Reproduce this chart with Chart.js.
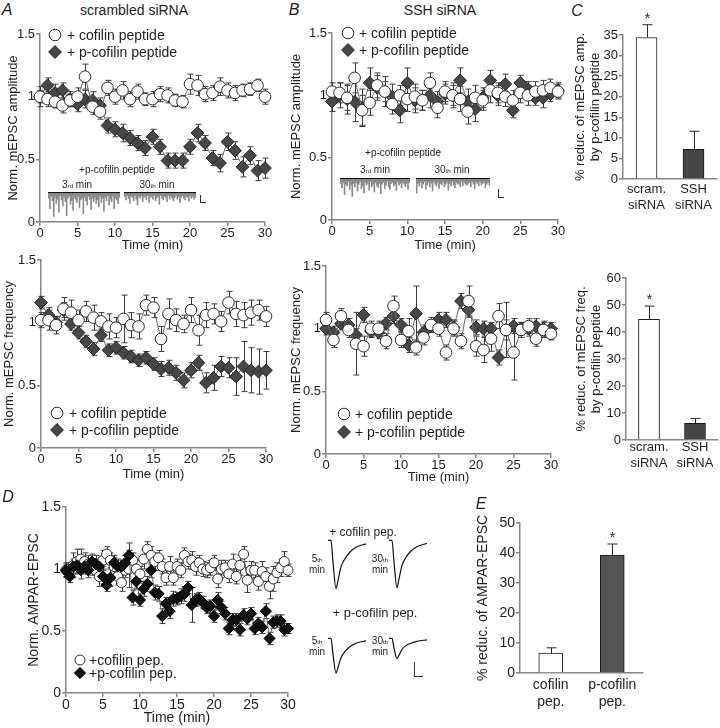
<!DOCTYPE html>
<html>
<head>
<meta charset="utf-8">
<title>p-cofilin peptide: mEPSC and AMPAR-EPSC</title>
<script src="https://cdn.jsdelivr.net/npm/chart.js@4.4.1/dist/chart.umd.min.js"></script>
<style>
  html, body { margin: 0; padding: 0; background: #fff; }
  body { position: relative; width: 720px; height: 728px; overflow: hidden;
         font-family: "Liberation Sans", Arial, Helvetica, sans-serif; color: #1e1e1e; }
  canvas { position: absolute; }
  .lbl { position: absolute; transform: translate(-50%, -50%); white-space: nowrap; line-height: 1; }
  .lbl sub { font-size: 62%; vertical-align: baseline; }
  .sb { position: absolute; border-left: 1px solid #333; border-bottom: 1px solid #333; }
</style>
</head>
<body>
<script>
const FONT = '"Liberation Sans", Arial, Helvetica, sans-serif';
const INK = '#1e1e1e';
const AXIS = '#858585';

// ---- data ----
const minutes = [0,1,2,3,4,5,6,7,8,9,10,11,12,13,14,15,16,17,18,19,20,21,22,23,24,25,26,27,28,29,30];

// A: scrambled siRNA
const ampScrCof     = [1.0,0.98,0.96,0.93,0.97,1.0,1.16,0.92,0.88,1.07,1.0,1.05,0.98,1.04,0.98,0.98,1.02,1.01,0.97,0.96,1.1,1.09,1.02,1.03,1.08,1.05,1.03,1.05,1.06,1.09,1.0];
const ampScrCofErr  = [0.08,0.06,0.05,0.06,0.05,0.07,0.1,0.06,0.06,0.06,0.06,0.07,0.06,0.06,0.05,0.06,0.06,0.06,0.05,0.05,0.08,0.08,0.06,0.06,0.07,0.06,0.06,0.05,0.05,0.05,0.06];
const ampScrPcof    = [1.0,1.09,1.03,1.05,0.98,0.94,0.98,0.97,0.93,0.77,0.74,0.71,0.67,0.63,0.59,0.68,0.6,0.49,0.49,0.49,0.6,0.71,0.63,0.51,0.47,0.64,0.57,0.44,0.53,0.41,0.43];
const ampScrPcofErr = [0.05,0.06,0.07,0.06,0.06,0.06,0.07,0.07,0.06,0.06,0.06,0.07,0.06,0.06,0.06,0.06,0.06,0.06,0.06,0.06,0.06,0.07,0.06,0.06,0.07,0.07,0.07,0.08,0.07,0.08,0.08];
const freqScrCof     = [1.02,1.02,0.98,1.11,1.08,1.02,1.09,1.04,1.01,0.97,0.96,1.03,0.98,0.97,1.14,1.12,0.87,1.07,1.02,0.99,1.1,0.94,1.06,1.07,1.01,1.16,1.07,1.06,1.08,1.1,1.05];
const freqScrCofErr  = [0.06,0.08,0.07,0.09,0.1,0.08,0.08,0.1,0.07,0.1,0.08,0.19,0.1,0.1,0.08,0.08,0.1,0.12,0.09,0.07,0.1,0.12,0.1,0.08,0.08,0.09,0.1,0.1,0.1,0.08,0.08];
const freqScrPcof    = [1.16,1.06,1.0,1.1,0.99,0.92,0.85,0.79,0.9,0.78,0.8,0.76,0.73,0.7,0.72,0.67,0.63,0.64,0.6,0.54,0.62,0.68,0.52,0.56,0.65,0.64,0.57,0.65,0.62,0.61,0.62];
const freqScrPcofErr = [0.05,0.06,0.05,0.06,0.05,0.05,0.05,0.05,0.05,0.05,0.05,0.05,0.05,0.05,0.05,0.05,0.06,0.06,0.06,0.06,0.06,0.06,0.08,0.1,0.08,0.08,0.15,0.2,0.18,0.18,0.15];

// B: SSH siRNA
const ampSshCof     = [1.03,1.02,0.98,1.14,0.88,0.94,1.08,1.03,0.93,1.0,0.97,0.99,0.96,1.1,0.9,1.03,1.0,0.97,0.87,0.98,0.96,1.04,1.02,0.99,0.96,1.02,1.0,1.03,1.04,1.06,1.03];
const ampSshCofErr  = [0.07,0.08,0.1,0.12,0.12,0.1,0.1,0.08,0.08,0.08,0.1,0.1,0.08,0.08,0.08,0.08,0.1,0.1,0.1,0.1,0.08,0.1,0.08,0.08,0.08,0.08,0.08,0.08,0.08,0.07,0.06];
const ampSshPcof    = [0.95,1.0,0.97,0.95,0.9,1.1,1.06,1.03,0.99,0.88,1.1,0.96,0.96,1.0,0.95,1.01,1.0,1.12,0.95,0.89,0.98,1.12,1.0,1.09,0.88,1.1,1.05,0.98,0.98,1.01,1.04];
const ampSshPcofErr = [0.08,0.1,0.12,0.16,0.15,0.12,0.1,0.12,0.1,0.1,0.12,0.1,0.08,0.1,0.08,0.08,0.08,0.1,0.1,0.1,0.08,0.08,0.08,0.08,0.06,0.06,0.06,0.06,0.08,0.06,0.06];
const freqSshCof     = [1.07,0.91,1.1,0.99,0.88,0.86,1.0,1.0,0.9,1.18,0.91,0.98,0.85,0.93,1.03,1.0,0.81,1.0,0.9,1.22,0.86,0.83,0.92,1.1,0.99,0.81,0.99,1.02,0.92,0.99,0.96];
const freqSshCofErr  = [0.06,0.06,0.06,0.06,0.25,0.08,0.06,0.06,0.06,0.08,0.06,0.1,0.06,0.06,0.06,0.06,0.06,0.06,0.06,0.12,0.08,0.1,0.1,0.1,0.08,0.22,0.06,0.06,0.06,0.06,0.05];
const freqSshPcof    = [1.0,0.97,1.04,1.03,0.95,1.11,0.98,0.97,1.04,1.1,1.03,0.87,1.12,0.97,1.02,1.07,1.07,1.01,1.22,1.15,1.01,1.0,1.0,0.77,0.99,1.02,1.0,1.0,1.02,1.0,1.0];
const freqSshPcofErr = [0.05,0.05,0.05,0.05,0.05,0.06,0.05,0.05,0.05,0.06,0.05,0.06,0.22,0.06,0.05,0.06,0.06,0.06,0.06,0.06,0.06,0.06,0.05,0.06,0.22,0.06,0.05,0.06,0.06,0.06,0.05];

// C: % reduction by p-cofilin peptide
const sirnaCats   = [['scram.', 'siRNA'], ['SSH', 'siRNA']];
const redAmp      = [34.4, 7.2];
const redAmpErr   = [3.1, 4.4];
const redFreq     = [44.7, 6.2];
const redFreqErr  = [4.9, 1.8];
const sirnaStars  = [true, false];

// D: AMPAR-EPSC, every 30 s
const halfMinutes = [0,0.5,1,1.5,2,2.5,3,3.5,4,4.5,5,5.5,6,6.5,7,7.5,8,8.5,9,9.5,10,10.5,11,11.5,12,12.5,13,13.5,14,14.5,15,15.5,16,16.5,17,17.5,18,18.5,19,19.5,20,20.5,21,21.5,22,22.5,23,23.5,24,24.5,25,25.5,26,26.5,27,27.5,28,28.5,29,29.5,30];
const ampaCof = [0.99,1.0,1.03,1.06,1.08,1.06,1.04,1.01,0.99,0.94,
                 1.07,1.12,1.07,1.02,0.94,0.89,0.99,1.0,1.07,1.0,
                 0.96,1.08,1.16,1.11,1.06,1.09,1.02,0.93,1.02,0.93,
                 1.02,0.99,1.11,1.06,1.07,1.02,1.05,1.0,0.99,1.01,
                 1.05,0.92,1.0,1.01,0.96,1.04,0.94,1.03,1.12,0.91,
                 0.99,0.99,0.9,0.98,0.94,0.86,0.92,0.97,1.01,1.06,0.99];
const ampaCofErr = [0.06,0.05,0.1,0.1,0.08,0.07,0.07,0.06,0.06,0.08,
                    0.08,0.06,0.06,0.07,0.07,0.07,0.06,0.15,0.06,0.07,
                    0.06,0.08,0.06,0.07,0.07,0.06,0.06,0.06,0.08,0.06,
                    0.06,0.06,0.06,0.06,0.07,0.07,0.06,0.06,0.06,0.06,
                    0.06,0.07,0.07,0.06,0.07,0.08,0.06,0.08,0.06,0.1,
                    0.07,0.06,0.07,0.08,0.07,0.1,0.1,0.08,0.07,0.08,0.05];
const ampaPcof = [0.99,0.94,1.02,1.03,0.99,1.02,0.99,1.06,1.04,1.02,
                  0.94,0.87,0.93,1.05,1.02,1.02,1.05,1.11,0.77,0.9,
                  0.75,0.84,0.88,0.99,0.81,0.8,0.62,0.72,0.66,0.76,
                  0.76,0.78,0.8,0.85,0.71,0.75,0.76,0.73,0.69,0.7,
                  0.62,0.75,0.69,0.64,0.52,0.59,0.59,0.51,0.63,0.6,
                  0.64,0.52,0.56,0.53,0.66,0.44,0.57,0.58,0.58,0.51,0.52];
const ampaPcofErr = [0.05,0.05,0.06,0.06,0.07,0.06,0.06,0.06,0.07,0.06,
                     0.06,0.05,0.07,0.06,0.06,0.05,0.06,0.1,0.06,0.06,
                     0.05,0.06,0.06,0.06,0.06,0.06,0.06,0.05,0.06,0.06,
                     0.05,0.06,0.06,0.05,0.14,0.05,0.05,0.05,0.05,0.05,
                     0.05,0.06,0.05,0.05,0.05,0.05,0.05,0.05,0.05,0.05,
                     0.05,0.05,0.05,0.05,0.06,0.05,0.05,0.05,0.05,0.05,0.04];

// E: % reduction of AMPAR-EPSC
const pepCats    = [['cofilin', 'pep.'], ['p-cofilin', 'pep.']];
const redAmpa    = [6.6, 39.3];
const redAmpaErr = [1.8, 3.7];
const pepStars   = [false, true];

// example traces: mEPSC event depths (pA) and evoked EPSC shape (normalised)
const spikesScr3  = [-6,-18,-4,-9,-27,-5,-12,-7,-22,-3,-8,-15,-5,-10,-26,-6,-4,-13,-9,-20,-5,-7,-11,-4,-17,-8,-6,-24,-5,-9,-14,-4,-7,-19,-6,-10,-5,-12,-8,-16,-4,-11,-6,-21,-5,-9,-3,-14,-7,-10,-4,-18,-6,-8,-12,-5];
const spikesScr30 = [-4,-8,-3,-6,-12,-4,-5,-9,-3,-7,-14,-4,-6,-3,-10,-5,-4,-8,-3,-11,-5,-4,-7,-3,-9,-6,-4,-13,-3,-6,-8,-4,-5,-10,-3,-7,-4,-6,-9,-5,-3,-7,-4,-11,-5,-3,-6,-8,-4,-5,-9,-3,-6,-4,-7,-5];
const spikesSsh3  = [-5,-10,-4,-18,-6,-8,-3,-12,-7,-20,-5,-9,-4,-14,-6,-3,-11,-8,-16,-4,-7,-5,-13,-3,-9,-6,-15,-4,-8,-10,-5,-17,-6,-4,-11,-7,-3,-9,-12,-5,-4,-8,-6,-13,-3,-7,-5,-10,-4,-6,-9,-5,-12,-4];
const spikesSsh30 = [-16,-5,-8,-4,-10,-6,-3,-12,-7,-4,-9,-5,-14,-3,-6,-8,-4,-11,-5,-7,-3,-9,-6,-4,-13,-5,-8,-3,-7,-10,-4,-6,-5,-9,-3,-8,-4,-6,-7,-5,-4,-9,-3,-6,-11,-4,-5,-8,-3,-7,-5,-4,-10,-6,-4,-7];
const epscMs     = [0, 3, 5, 8, 10, 13, 17, 22, 28, 38];
const epscCof5   = [0, 0, -0.45, -1.0, -0.83, -0.55, -0.38, -0.24, -0.14, -0.07];
const epscCof30  = [0, 0, -0.45, -0.98, -0.8, -0.52, -0.35, -0.22, -0.13, -0.06];
const epscPcof5  = [0, 0, -0.33, -0.72, -0.6, -0.4, -0.27, -0.17, -0.1, -0.05];
const epscPcof30 = [0, 0, -0.2, -0.42, -0.35, -0.23, -0.15, -0.1, -0.06, -0.03];

// ---- chart setup ----
Chart.defaults.font.family = FONT;
Chart.defaults.color = INK;
Chart.defaults.animation = false;
Chart.defaults.plugins.legend.display = false;
Chart.defaults.plugins.tooltip.enabled = false;

// error bars (symmetric for time courses, upward only for bars) + significance stars
const errorBars = {
  id: 'errorBars',
  beforeDatasetsDraw(chart) { drawErrors(chart, false); },
  afterDatasetsDraw(chart) { drawErrors(chart, true); }
};
function drawErrors(chart, barsPass) {
  const ctx = chart.ctx, y = chart.scales.y;
  chart.data.datasets.forEach((ds, i) => {
    if (!ds.errors || !!ds.errorUpOnly !== barsPass) return;
    const meta = chart.getDatasetMeta(i);
    ctx.save();
    ctx.strokeStyle = ds.errorColor || '#333';
    ctx.lineWidth = 1;
    meta.data.forEach((el, j) => {
      const raw = ds.data[j];
      const v = typeof raw === 'object' ? raw.y : raw;
      const e = ds.errors[j];
      const x = Math.round(el.x) + 0.5;
      const top = y.getPixelForValue(v + e);
      const bot = ds.errorUpOnly ? y.getPixelForValue(v) : y.getPixelForValue(v - e);
      const cap = ds.errorCap || 3;
      ctx.beginPath();
      ctx.moveTo(x, top); ctx.lineTo(x, bot);
      ctx.moveTo(x - cap, top); ctx.lineTo(x + cap, top);
      if (!ds.errorUpOnly) { ctx.moveTo(x - cap, bot); ctx.lineTo(x + cap, bot); }
      ctx.stroke();
      if (ds.stars && ds.stars[j]) {
        ctx.fillStyle = INK;
        ctx.font = '14px ' + FONT;
        ctx.textAlign = 'center';
        ctx.textBaseline = 'alphabetic';
        ctx.fillText('*', x, top - 2);
      }
    });
    ctx.restore();
  });
}

// legend drawn inside the plot area at a fixed offset
const inlineLegend = {
  id: 'inlineLegend',
  afterDraw(chart, args, opts) {
    if (!opts.items) return;
    const {ctx, chartArea} = chart;
    opts.items.forEach((text, i) => {
      const ds = chart.data.datasets[i];
      const x = chartArea.left + opts.x, y = chartArea.top + opts.y + i * opts.dy;
      ctx.save();
      ctx.fillStyle = ds.pointBackgroundColor;
      ctx.strokeStyle = ds.pointBorderColor;
      ctx.lineWidth = ds.pointBorderWidth;
      Chart.helpers.drawPoint(ctx, {pointStyle: ds.pointStyle, radius: ds.pointRadius, borderWidth: ds.pointBorderWidth, rotation: 0}, x, y);
      ctx.fillStyle = INK;
      ctx.font = opts.size + 'px ' + FONT;
      ctx.textBaseline = 'middle';
      ctx.fillText(text, x + opts.dx, y + 1);
      ctx.restore();
    });
  }
};

function makeCanvas(b) {
  const c = document.createElement('canvas');
  c.width = Math.round(b.r - b.l + b.yw + b.padR);
  c.height = Math.round(b.b - b.t + b.padT + b.xh);
  c.style.left = (b.l - b.yw) + 'px';
  c.style.top = (b.t - b.padT) + 'px';
  document.body.appendChild(c);
  return c;
}

function axis(o) {
  const cat = o.type === 'category';
  const ticks = {stepSize: o.step, color: INK, font: {size: o.fs}, padding: o.tickPad, maxRotation: 0, autoSkip: false};
  if (!cat) ticks.callback = v => String(v);
  return {
    type: o.type, min: o.min, max: o.max, offset: cat,
    border: {display: true, color: AXIS, width: 1.5},
    grid: {display: !cat, drawOnChartArea: false, drawTicks: !cat, tickLength: 4, color: AXIS, lineWidth: 1.5},
    ticks,
    title: {display: !!o.title, text: o.title, color: INK, font: {size: o.tfs}, padding: o.titlePad},
    afterFit: s => { if (s.isHorizontal()) s.height = o.size; else s.width = o.size; }
  };
}

const CIRCLE = {shape: 'circle', fill: '#ffffff', stroke: '#2a2a2a'};
const GREY_DIAMOND = {shape: 'rectRot', fill: '#474747', stroke: '#262626'};
const BLACK_DIAMOND = {shape: 'rectRot', fill: '#111111', stroke: '#000000'};

function series(label, xs, ys, errs, st, r) {
  return {
    label, data: xs.map((x, i) => ({x, y: ys[i]})), errors: errs, errorColor: '#3c3c3c',
    borderColor: '#6a6a6a', borderWidth: 1, tension: 0, clip: false,
    pointStyle: st.shape, pointRadius: r, pointBackgroundColor: st.fill,
    pointBorderColor: st.stroke, pointBorderWidth: 1
  };
}

function timeCourse(b, xs, cof, pcof, o) {
  const ds = [
    series(o.names[0], xs, cof[0], cof[1], CIRCLE, o.r),
    series(o.names[1], xs, pcof[0], pcof[1], o.diamond, o.r + 0.6)
  ];
  if (o.pcofOnTop) { ds[0].order = 2; ds[1].order = 1; }
  return new Chart(makeCanvas(b), {
    type: 'line',
    data: {datasets: ds},
    options: {
      responsive: false, devicePixelRatio: 1,
      layout: {padding: {top: b.padT, right: b.padR, left: 0, bottom: 0}},
      scales: {
        x: axis({type: 'linear', min: 0, max: 30, step: 5, size: b.xh, fs: o.fs, tfs: o.tfs, tickPad: 0,
                 title: 'Time (min)', titlePad: {top: 0, bottom: b.xtp}}),
        y: axis({type: 'linear', min: 0, max: 1.5, step: 0.5, size: b.yw, fs: o.fs, tfs: o.tfs, tickPad: 1,
                 title: o.ytitle, titlePad: {top: b.ytp, bottom: 0}})
      },
      plugins: {inlineLegend: {items: o.names, x: o.leg[0], y: o.leg[1], dy: o.leg[2], dx: o.leg[3], size: o.legSize}}
    },
    plugins: [errorBars, inlineLegend]
  });
}

function reductionBars(b, cats, vals, errs, stars, o) {
  return new Chart(makeCanvas(b), {
    type: 'bar',
    data: {labels: cats, datasets: [{
      data: vals, errors: errs, errorUpOnly: true, errorCap: 5, errorColor: '#2a2a2a', stars,
      backgroundColor: ['#ffffff', o.dark], borderColor: '#1a1a1a', borderWidth: 1, barThickness: o.barW
    }]},
    options: {
      responsive: false, devicePixelRatio: 1,
      layout: {padding: {top: b.padT, right: b.padR, left: 0, bottom: 0}},
      scales: {
        x: axis({type: 'category', size: b.xh, fs: o.xfs, tickPad: b.tickPad}),
        y: axis({type: 'linear', min: 0, max: o.max, step: o.step, size: b.yw, fs: o.fs, tfs: o.tfs, tickPad: 1,
                 title: o.ytitle, titlePad: {top: b.ytp, bottom: 0}})
      }
    },
    plugins: [errorBars]
  });
}

function spikeTrace(x, y, w, spikes) {
  const c = document.createElement('canvas');
  c.width = w; c.height = 28;
  c.style.left = x + 'px'; c.style.top = (y - 2) + 'px';
  document.body.appendChild(c);
  return new Chart(c, {
    type: 'bar',
    data: {labels: spikes.map((_, i) => i), datasets: [{data: spikes, backgroundColor: '#8a8a8a', barThickness: 1, borderWidth: 0}]},
    options: {
      responsive: false, devicePixelRatio: 1,
      layout: {padding: {top: 2, left: 0, right: 0, bottom: 0}},
      scales: {
        x: {position: 'top', offset: true, border: {display: true, color: '#111', width: 2.2},
            grid: {display: false, drawTicks: false}, ticks: {display: false}, afterFit: s => { s.height = 0; }},
        y: {display: false, min: -30, max: 0}
      }
    }
  });
}

function epscTrace(x, y, vals) {
  const c = document.createElement('canvas');
  c.width = 42; c.height = 57;
  c.style.left = (x - 2) + 'px'; c.style.top = (y - 4) + 'px';
  document.body.appendChild(c);
  return new Chart(c, {
    type: 'line',
    data: {datasets: [{data: epscMs.map((t, i) => ({x: t, y: vals[i]})), borderColor: '#111', borderWidth: 1.2,
                       pointRadius: 0, cubicInterpolationMode: 'monotone'}]},
    options: {
      responsive: false, devicePixelRatio: 1,
      layout: {padding: 2},
      scales: {x: {type: 'linear', display: false, min: 0, max: 38}, y: {display: false, min: -1.05, max: 0.05}}
    }
  });
}

function label(html, x, y, css) {
  const d = document.createElement('div');
  d.className = 'lbl';
  d.innerHTML = html;
  d.style.left = x + 'px';
  d.style.top = y + 'px';
  Object.assign(d.style, css || {});
  document.body.appendChild(d);
}
function scaleBar(x, y, w, h) {
  const d = document.createElement('div');
  d.className = 'sb';
  Object.assign(d.style, {left: x + 'px', top: y + 'px', width: w + 'px', height: h + 'px'});
  document.body.appendChild(d);
}

// ---- layout (page pixels of each plot area) ----
const box = {
  ampScr:  {l: 40,  r: 265, t: 34,  b: 222, yw: 40, xh: 32, padT: 14, padR: 10, ytp: 5.2, xtp: 1.2},
  freqScr: {l: 41,  r: 266, t: 260, b: 448, yw: 41, xh: 34, padT: 14, padR: 10, ytp: 1.2, xtp: 0.2},
  ampSsh:  {l: 332, r: 558, t: 33,  b: 220, yw: 47, xh: 34, padT: 14, padR: 10, ytp: 3.2, xtp: 1.2},
  freqSsh: {l: 326, r: 551, t: 266, b: 454, yw: 46, xh: 36, padT: 14, padR: 10, ytp: 8.2, xtp: 5.2},
  ampa:    {l: 66,  r: 288, t: 507, b: 693, yw: 66, xh: 35, padT: 14, padR: 8,  ytp: 25.6, xtp: 1.6},
  redAmp:  {l: 623, r: 717, t: 35,  b: 179, yw: 58, xh: 40, padT: 28, padR: 3,  ytp: 7.2, tickPad: 3},
  redFreq: {l: 626, r: 718, t: 278, b: 440, yw: 61, xh: 40, padT: 12, padR: 2,  ytp: 8.2, tickPad: 0},
  redAmpa: {l: 520, r: 643, t: 523, b: 673, yw: 50, xh: 40, padT: 12, padR: 5,  ytp: 4.6, tickPad: 3.6}
};

const peptideNames = ['+ cofilin peptide', '+ p-cofilin peptide'];
const abOpts = {names: peptideNames, diamond: GREY_DIAMOND, r: 5.8, fs: 13, tfs: 13, legSize: 14};

timeCourse(box.ampScr, minutes, [ampScrCof, ampScrCofErr], [ampScrPcof, ampScrPcofErr],
  Object.assign({}, abOpts, {ytitle: 'Norm. mEPSC amplitude', leg: [15, 1, 17, 12]}));
timeCourse(box.freqScr, minutes, [freqScrCof, freqScrCofErr], [freqScrPcof, freqScrPcofErr],
  Object.assign({}, abOpts, {ytitle: 'Norm. mEPSC frequency', leg: [16, 153, 17, 12]}));
timeCourse(box.ampSsh, minutes, [ampSshCof, ampSshCofErr], [ampSshPcof, ampSshPcofErr],
  Object.assign({}, abOpts, {ytitle: 'Norm. mEPSC amplitude', leg: [16, 0, 17, 11]}));
timeCourse(box.freqSsh, minutes, [freqSshCof, freqSshCofErr], [freqSshPcof, freqSshPcofErr],
  Object.assign({}, abOpts, {ytitle: 'Norm. mEPSC frequency', leg: [18, 148, 18, 11]}));
timeCourse(box.ampa, halfMinutes, [ampaCof, ampaCofErr], [ampaPcof, ampaPcofErr],
  {names: ['+cofilin pep.', '+p-cofilin pep.'], diamond: BLACK_DIAMOND, r: 5, fs: 14, tfs: 14, legSize: 14,
   ytitle: 'Norm. AMPAR-EPSC', leg: [14, 153, 13, 9], pcofOnTop: true});

reductionBars(box.redAmp, sirnaCats, redAmp, redAmpErr, sirnaStars,
  {max: 35, step: 5, barW: 21, dark: '#454545', fs: 13, xfs: 13, tfs: 13, ytitle: ['% reduc. of mEPSC amp.', 'by p-cofilin peptide']});
reductionBars(box.redFreq, sirnaCats, redFreq, redFreqErr, sirnaStars,
  {max: 60, step: 10, barW: 21, dark: '#454545', fs: 13, xfs: 13, tfs: 13, ytitle: ['% reduc. of mEPSC freq.', 'by p-cofilin peptide']});
reductionBars(box.redAmpa, pepCats, redAmpa, redAmpaErr, pepStars,
  {max: 50, step: 10, barW: 24, dark: '#555555', fs: 14, xfs: 14, tfs: 14, ytitle: '% reduc. of AMPAR-EPSC'});

// example recordings
spikeTrace(48, 193, 72, spikesScr3);
spikeTrace(124, 193, 72, spikesScr30);
spikeTrace(340, 179, 70, spikesSsh3);
spikeTrace(416, 179, 74, spikesSsh30);
epscTrace(328, 540, epscCof5);
epscTrace(389, 540, epscCof30);
epscTrace(328, 638, epscPcof5);
epscTrace(389, 638, epscPcof30);
scaleBar(200, 195, 5, 7);
scaleBar(498, 189, 5, 8);
scaleBar(414, 662, 8, 14);

// panel letters and headings
label('A', 7, 10, {fontStyle: 'italic', fontSize: '16px'});
label('scrambled siRNA', 134, 10, {fontSize: '14px'});
label('B', 294, 10, {fontStyle: 'italic', fontSize: '16px'});
label('SSH siRNA', 440, 10, {fontSize: '14px'});
label('C', 577, 11, {fontStyle: 'italic', fontSize: '16px'});
label('D', 8, 497, {fontStyle: 'italic', fontSize: '16px'});
label('E', 481, 504, {fontStyle: 'italic', fontSize: '16px'});

// trace annotations
label('+p-cofilin peptide', 117, 170, {fontSize: '10px'});
label('3<sub>rd</sub> min', 77, 185, {fontSize: '10px'});
label('30<sub>th</sub> min', 157, 185, {fontSize: '10px'});
label('+p-cofilin peptide', 403, 153, {fontSize: '10px'});
label('3<sub>rd</sub> min', 375, 170, {fontSize: '10px'});
label('30<sub>th</sub> min', 452, 170, {fontSize: '10px'});
label('+ cofilin pep.', 363, 532, {fontSize: '12px'});
label('+ p-cofilin pep.', 375, 612, {fontSize: '13px'});
label('5<sub>th</sub>', 317, 559, {fontSize: '10px'});
label('min', 317, 570, {fontSize: '10px'});
label('30<sub>th</sub>', 380, 559, {fontSize: '10px'});
label('min', 380, 570, {fontSize: '10px'});
label('5<sub>th</sub>', 317, 641, {fontSize: '10px'});
label('min', 317, 652, {fontSize: '10px'});
label('30<sub>th</sub>', 380, 641, {fontSize: '10px'});
label('min', 380, 652, {fontSize: '10px'});
</script>
</body>
</html>
